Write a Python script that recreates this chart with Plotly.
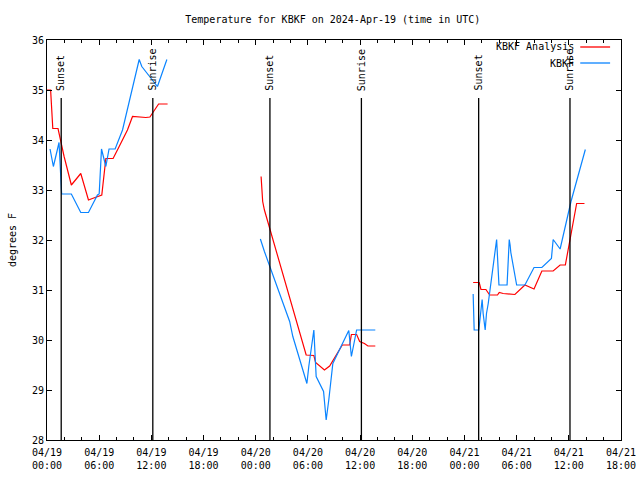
import plotly.graph_objects as go

# ---------------- data ----------------
analysis_times = [
    "2024-04-19 00:00", "2024-04-19 00:25", "2024-04-19 00:40", "2024-04-19 01:16", "2024-04-19 01:58",
    "2024-04-19 02:48", "2024-04-19 03:53", "2024-04-19 04:46", "2024-04-19 05:13", "2024-04-19 06:18",
    "2024-04-19 06:46", "2024-04-19 07:36", "2024-04-19 08:18", "2024-04-19 09:15", "2024-04-19 09:50",
    "2024-04-19 11:22", "2024-04-19 11:50", "2024-04-19 12:50", "2024-04-19 13:52",
    None,
    "2024-04-20 00:37", "2024-04-20 00:48", "2024-04-20 01:00", "2024-04-20 05:48", "2024-04-20 06:41",
    "2024-04-20 06:53", "2024-04-20 07:54", "2024-04-20 08:30", "2024-04-20 09:57", "2024-04-20 10:48",
    "2024-04-20 11:00", "2024-04-20 11:36", "2024-04-20 11:57", "2024-04-20 12:30", "2024-04-20 12:54",
    "2024-04-20 13:45",
    None,
    "2024-04-21 01:00", "2024-04-21 01:42", "2024-04-21 01:54", "2024-04-21 02:28", "2024-04-21 02:54",
    "2024-04-21 03:48", "2024-04-21 04:00", "2024-04-21 04:27", "2024-04-21 05:48", "2024-04-21 06:57",
    "2024-04-21 08:00", "2024-04-21 08:54", "2024-04-21 10:12", "2024-04-21 11:00", "2024-04-21 11:36",
    "2024-04-21 12:12", "2024-04-21 12:54", "2024-04-21 13:48",
]
analysis_values = [
    35.0, 35.0, 34.23, 34.23, 33.67,
    33.1, 33.33, 32.8, 32.83, 32.9,
    33.63, 33.63, 33.87, 34.2, 34.47,
    34.45, 34.46, 34.72, 34.72,
    None,
    33.27, 32.77, 32.6, 29.7, 29.69,
    29.55, 29.4, 29.48, 29.9, 29.9,
    30.11, 30.11, 29.97, 29.93, 29.88,
    29.88,
    None,
    31.15, 31.15, 31.01, 31.01, 30.9,
    30.9, 30.95, 30.93, 30.91, 31.1,
    31.02, 31.38, 31.38, 31.5, 31.5,
    32.07, 32.73, 32.73,
]

obs_times = [
    "2024-04-19 00:21", "2024-04-19 00:44", "2024-04-19 01:11", "2024-04-19 01:23", "2024-04-19 01:41",
    "2024-04-19 02:48", "2024-04-19 03:53", "2024-04-19 04:46", "2024-04-19 05:48", "2024-04-19 06:00",
    "2024-04-19 06:16", "2024-04-19 06:46", "2024-04-19 07:08", "2024-04-19 07:50", "2024-04-19 08:41",
    "2024-04-19 10:36", "2024-04-19 10:54", "2024-04-19 12:42", "2024-04-19 13:47",
    None,
    "2024-04-20 00:32", "2024-04-20 01:00", "2024-04-20 03:54", "2024-04-20 04:16", "2024-04-20 05:53",
    "2024-04-20 06:06", "2024-04-20 06:41", "2024-04-20 06:57", "2024-04-20 07:48", "2024-04-20 08:06",
    "2024-04-20 08:24", "2024-04-20 08:52", "2024-04-20 10:42", "2024-04-20 11:00", "2024-04-20 11:36",
    "2024-04-20 13:45",
    None,
    "2024-04-21 01:00", "2024-04-21 01:02", "2024-04-21 01:07", "2024-04-21 01:39", "2024-04-21 01:46",
    "2024-04-21 01:56", "2024-04-21 02:02", "2024-04-21 02:09", "2024-04-21 02:23", "2024-04-21 02:32",
    "2024-04-21 02:44", "2024-04-21 03:42", "2024-04-21 03:58", "2024-04-21 04:54", "2024-04-21 05:09",
    "2024-04-21 05:15", "2024-04-21 05:20", "2024-04-21 06:00", "2024-04-21 06:57", "2024-04-21 08:00",
    "2024-04-21 08:54", "2024-04-21 10:00", "2024-04-21 10:12", "2024-04-21 11:00", "2024-04-21 12:15",
    "2024-04-21 13:54",
]
obs_values = [
    33.82, 33.47, 33.8, 33.95, 32.92,
    32.92, 32.55, 32.55, 32.9, 32.92,
    33.82, 33.47, 33.82, 33.82, 34.2,
    35.61, 35.47, 35.07, 35.61,
    None,
    32.02, 31.77, 30.37, 30.07, 29.13,
    29.47, 30.2, 29.27, 28.97, 28.4,
    28.8, 29.53, 30.19, 29.67, 30.2,
    30.2,
    None,
    30.92, 30.6, 30.2, 30.2, 30.4,
    30.73, 30.81, 30.53, 30.2, 30.53,
    30.73, 32.01, 31.1, 31.1, 32.01,
    31.9, 31.75, 31.1, 31.1, 31.45,
    31.45, 31.63, 32.01, 31.82, 32.77,
    33.81,
]

sun_times = ["2024-04-19 01:38", "2024-04-19 12:10", "2024-04-20 01:38",
             "2024-04-20 12:09", "2024-04-21 01:38", "2024-04-21 12:08"]
sun_labels = ["Sunset", "Sunrise", "Sunset", "Sunrise", "Sunset", "Sunrise"]

tick_times = ["2024-04-19 00:00", "2024-04-19 06:00", "2024-04-19 12:00", "2024-04-19 18:00",
              "2024-04-20 00:00", "2024-04-20 06:00", "2024-04-20 12:00", "2024-04-20 18:00",
              "2024-04-21 00:00", "2024-04-21 06:00", "2024-04-21 12:00", "2024-04-21 18:00"]
tick_labels = ["04/19<br>00:00", "04/19<br>06:00", "04/19<br>12:00", "04/19<br>18:00",
               "04/20<br>00:00", "04/20<br>06:00", "04/20<br>12:00", "04/20<br>18:00",
               "04/21<br>00:00", "04/21<br>06:00", "04/21<br>12:00", "04/21<br>18:00"]

series_names = ["KBKF Analysis", "KBKF"]
series_colors = ["#ff0000", "#0a84ff"]

FONT = "DejaVu Sans Mono"

fig = go.Figure()
fig.add_trace(go.Scatter(x=analysis_times, y=analysis_values, mode="lines",
                         line=dict(color=series_colors[0], width=1.2), name=series_names[0],
                         connectgaps=False, showlegend=False))
fig.add_trace(go.Scatter(x=obs_times, y=obs_values, mode="lines",
                         line=dict(color=series_colors[1], width=1.2), name=series_names[1],
                         connectgaps=False, showlegend=False))

for t, lab in zip(sun_times, sun_labels):
    fig.add_shape(type="line", xref="x", yref="paper", x0=t, x1=t, y0=0, y1=0.855,
                  line=dict(color="black", width=1.3))
    fig.add_annotation(x=t, xref="x", y=0.868, yref="paper", text=lab, textangle=-90,
                       showarrow=False, xanchor="center", yanchor="bottom",
                       font=dict(family=FONT, size=10, color="black"))

# legend key (text left of sample line, as in the reference)
leg_y = [0.9825, 0.9425]
for name, col, yy in zip(series_names, series_colors, leg_y):
    fig.add_annotation(x=0.922, xref="paper", y=yy, yref="paper", text=name, showarrow=False,
                       xanchor="right", yanchor="middle", font=dict(family=FONT, size=10, color="black"))
    fig.add_shape(type="line", xref="paper", yref="paper", x0=0.929, x1=0.981, y0=yy, y1=yy,
                  line=dict(color=col, width=1.3))

fig.update_layout(
    width=640, height=480,
    margin=dict(l=47, r=19, t=40, b=40, autoexpand=False),
    paper_bgcolor="white", plot_bgcolor="white",
    title=dict(text="Temperature for KBKF on 2024-Apr-19 (time in UTC)", x=0.52, xanchor="center",
               y=1 - 19 / 480, yanchor="middle", font=dict(family=FONT, size=10, color="black")),
    font=dict(family=FONT, size=10, color="black"),
    showlegend=False,
)
fig.update_xaxes(
    type="date", range=["2024-04-19 00:00", "2024-04-21 18:00"],
    tickvals=tick_times, ticktext=tick_labels,
    ticks="inside", ticklen=5, tickcolor="black", tickwidth=1,
    minor=dict(dtick=7200000, ticks="inside", ticklen=3, tickcolor="black", showgrid=False,
               tick0="2024-04-19 00:00"),
    showline=True, linecolor="black", linewidth=1, mirror="ticks",
    showgrid=False, zeroline=False, tickangle=0, automargin=False,
    ticklabelstandoff=3,
    tickfont=dict(family=FONT, size=10),
)
fig.update_yaxes(
    range=[28, 36], dtick=1, tick0=28,
    ticks="inside", ticklen=5, tickcolor="black", tickwidth=1,
    showline=True, linecolor="black", linewidth=1, mirror="ticks",
    showgrid=False, zeroline=False, automargin=False,
    title=dict(text="degrees F", font=dict(family=FONT, size=10), standoff=13),
    tickfont=dict(family=FONT, size=10),
)

fig.write_html("out.html", config={"displayModeBar": False},
               post_script="document.body.style.margin='0px';")
